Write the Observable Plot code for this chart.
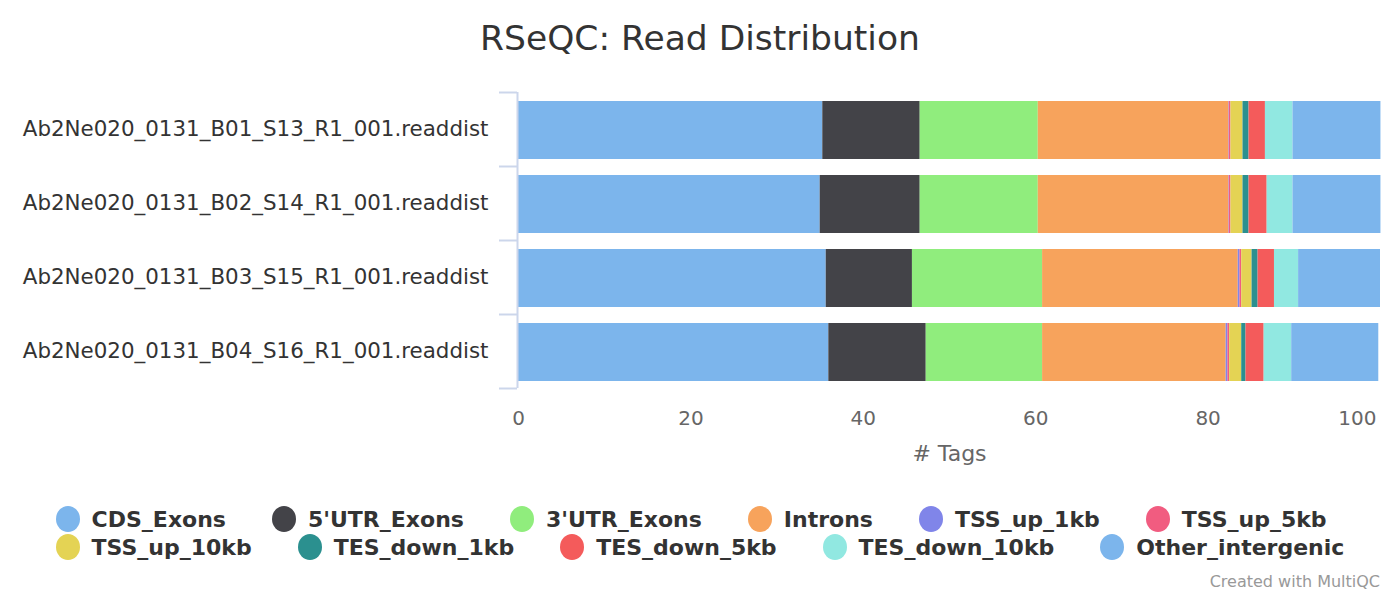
<!DOCTYPE html>
<html>
<head>
<meta charset="utf-8">
<script src="https://cdn.jsdelivr.net/npm/d3@7"></script>
<script src="https://cdn.jsdelivr.net/npm/@observablehq/plot@0.6"></script>
<style>
  html, body { margin: 0; padding: 0; background: #fff; }
  #wrap { position: relative; width: 1400px; height: 600px; font-family: "DejaVu Sans", Verdana, sans-serif; overflow: hidden; }
  #title { position: absolute; top: 18px; left: 0; width: 1400px; text-align: center; font-size: 34.5px; line-height: 1.164; color: #333; }
  #chart { position: absolute; top: 72px; left: 0; }
  #legend { position: absolute; top: 505px; left: 0; width: 1400px; display: flex; justify-content: center; }
  #legend .box { display: inline-block; }
  #legend .row { display: flex; height: 28px; align-items: center; }
  #legend .item { display: flex; align-items: center; margin-right: 46px; font-weight: bold; font-size: 22px; color: #333; }
  #legend .item:last-child { margin-right: 0; }
  #legend .dot { width: 24px; height: 26px; border-radius: 50%; margin-right: 12px; }
  #credit { position: absolute; right: 20px; top: 572px; font-size: 16px; color: #999; }
</style>
</head>
<body>
<div id="wrap">
  <div id="title">RSeQC: Read Distribution</div>
  <div id="chart"></div>
  <div id="legend"></div>
  <div id="credit">Created with MultiQC</div>
</div>
<script>
const samples = [
  "Ab2Ne020_0131_B01_S13_R1_001.readdist",
  "Ab2Ne020_0131_B02_S14_R1_001.readdist",
  "Ab2Ne020_0131_B03_S15_R1_001.readdist",
  "Ab2Ne020_0131_B04_S16_R1_001.readdist"
];
const seriesNames = ["CDS_Exons", "5'UTR_Exons", "3'UTR_Exons", "Introns", "TSS_up_1kb", "TSS_up_5kb",
  "TSS_up_10kb", "TES_down_1kb", "TES_down_5kb", "TES_down_10kb", "Other_intergenic"];
const seriesColors = ["#7cb5ec", "#434348", "#90ed7d", "#f7a35c", "#8085e9", "#f15c80",
  "#e4d354", "#2b908f", "#f45b5b", "#91e8e1", "#7cb5ec"];
const cdsExons        = [35.3, 35.0, 35.7, 36.0];
const utr5Exons       = [11.3, 11.6, 10.0, 11.3];
const utr3Exons       = [13.7, 13.7, 15.1, 13.5];
const introns         = [22.1, 22.1, 22.7, 21.3];
const tssUp1kb        = [0.05, 0.05, 0.2, 0.2];
const tssUp5kb        = [0.2, 0.2, 0.2, 0.2];
const tssUp10kb       = [1.4, 1.4, 1.2, 1.4];
const tesDown1kb      = [0.7, 0.7, 0.7, 0.5];
const tesDown5kb      = [1.9, 2.1, 1.9, 2.1];
const tesDown10kb     = [3.2, 3.0, 2.8, 3.2];
const otherIntergenic = [10.2, 10.2, 9.5, 10.1];
const xTicks = [0, 20, 40, 60, 80, 100];

const seriesValues = [cdsExons, utr5Exons, utr3Exons, introns, tssUp1kb, tssUp5kb,
  tssUp10kb, tesDown1kb, tesDown5kb, tesDown10kb, otherIntergenic];

const table = [];
samples.forEach((s, i) => {
  seriesNames.forEach((n, j) => {
    table.push({sample: s, series: n, value: seriesValues[j][i]});
  });
});

const axisColor = "#ccd6eb";
const chart = Plot.plot({
  width: 1400,
  height: 403,
  marginTop: 20,
  marginBottom: 87,
  marginLeft: 518,
  marginRight: 20,
  style: {fontFamily: "DejaVu Sans, Verdana, sans-serif", fontSize: "20px", color: "#666", background: "transparent"},
  x: {domain: [0, 100], ticks: xTicks},
  y: {domain: samples, padding: 0},
  color: {domain: seriesNames, range: seriesColors},
  marks: [
    Plot.barX(table, Plot.stackX({
      x: "value", y: "sample", z: "series", fill: (d) => seriesColors[seriesNames.indexOf(d.series)],
      order: seriesNames, insetTop: 9, insetBottom: 7
    })),
    Plot.axisX(xTicks.slice(0, -1), {tickSize: 0, tickPadding: 22, label: null, fontSize: 20, color: "#666"}),
    Plot.axisX(xTicks.slice(-1), {tickSize: 0, tickPadding: 22, label: null, textAnchor: "end", dx: -4, fontSize: 20, color: "#666"}),
    Plot.axisX([], {tickSize: 0, label: "# Tags", labelArrow: "none", labelAnchor: "center", labelOffset: 72, fontSize: 22, color: "#666"}),
    Plot.axisY({tickSize: 0, tickPadding: 30, label: null, fontSize: 21.4, fill: "#333"}),
    Plot.axisY({tickSize: 18, tickFormat: () => "", label: null, stroke: axisColor, strokeWidth: 2, dy: -37, dx: -1}),
    Plot.axisY([samples[samples.length - 1]], {tickSize: 18, tickFormat: () => "", label: null, stroke: axisColor, strokeWidth: 2, dy: 37, dx: -1}),
    Plot.ruleX([0], {stroke: axisColor, strokeWidth: 2, dx: -1})
  ]
});
document.getElementById("chart").appendChild(chart);

// Legend
const legend = document.getElementById("legend");
const box = document.createElement("div");
box.className = "box";
const rows = [seriesNames.slice(0, 6), seriesNames.slice(6)];
rows.forEach((r, ri) => {
  const row = document.createElement("div");
  row.className = "row";
  r.forEach((name, k) => {
    const idx = ri * 6 + k;
    const item = document.createElement("div");
    item.className = "item";
    const dot = document.createElement("span");
    dot.className = "dot";
    dot.style.background = seriesColors[idx];
    const lab = document.createElement("span");
    lab.textContent = name;
    item.appendChild(dot);
    item.appendChild(lab);
    row.appendChild(item);
  });
  box.appendChild(row);
});
legend.appendChild(box);
</script>
</body>
</html>
